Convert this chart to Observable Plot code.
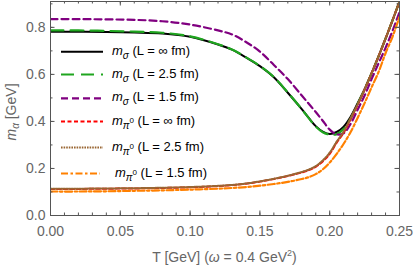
<!DOCTYPE html>
<html>
<head>
<meta charset="utf-8">
<script src="https://cdn.jsdelivr.net/npm/d3@7"></script>
<script src="https://cdn.jsdelivr.net/npm/@observablehq/plot@0.6"></script>
<style>
  html, body { margin: 0; padding: 0; background: #fff; }
  #chart svg { display: block; font-family: "Liberation Sans", Arial, sans-serif; }
</style>
</head>
<body>
<div id="chart"></div>
<script>
// Temperature grid (GeV)
const T = [0, 0.02, 0.04, 0.06, 0.08, 0.10, 0.12, 0.13, 0.14, 0.15, 0.16, 0.17, 0.18, 0.185, 0.19, 0.195, 0.20, 0.205, 0.21, 0.215, 0.22, 0.225, 0.23, 0.235, 0.24, 0.245, 0.25];

// m_sigma, L = infinity
const sigmaInf = [0.781, 0.781, 0.780, 0.778, 0.774, 0.760, 0.727, 0.705, 0.672, 0.635, 0.588, 0.522, 0.452, 0.415, 0.380, 0.357, 0.347, 0.355, 0.378, 0.420, 0.477, 0.537, 0.605, 0.677, 0.752, 0.830, 0.910];
// m_sigma, L = 2.5 fm
const sigma25 = [0.787, 0.787, 0.785, 0.782, 0.777, 0.762, 0.728, 0.706, 0.673, 0.636, 0.589, 0.523, 0.452, 0.414, 0.378, 0.354, 0.344, 0.346, 0.368, 0.412, 0.474, 0.537, 0.605, 0.677, 0.752, 0.830, 0.910];
// m_sigma, L = 1.5 fm
const sigma15 = [0.835, 0.835, 0.834, 0.832, 0.826, 0.812, 0.787, 0.770, 0.738, 0.697, 0.640, 0.580, 0.510, 0.475, 0.440, 0.403, 0.365, 0.345, 0.350, 0.390, 0.450, 0.510, 0.580, 0.647, 0.713, 0.785, 0.865];
// m_pi0, L = infinity
const pionInf = [0.113, 0.113, 0.114, 0.115, 0.117, 0.120, 0.125, 0.129, 0.135, 0.144, 0.155, 0.168, 0.183, 0.193, 0.207, 0.230, 0.262, 0.310, 0.352, 0.410, 0.470, 0.535, 0.605, 0.677, 0.752, 0.830, 0.910];
// m_pi0, L = 2.5 fm
const pion25 = [0.114, 0.114, 0.115, 0.116, 0.118, 0.121, 0.126, 0.130, 0.136, 0.145, 0.156, 0.169, 0.185, 0.195, 0.210, 0.234, 0.267, 0.314, 0.357, 0.414, 0.473, 0.537, 0.605, 0.677, 0.752, 0.830, 0.910];
// m_pi0, L = 1.5 fm
const pion15 = [0.102, 0.102, 0.103, 0.105, 0.107, 0.110, 0.114, 0.117, 0.121, 0.127, 0.134, 0.143, 0.155, 0.163, 0.176, 0.196, 0.225, 0.262, 0.305, 0.355, 0.415, 0.478, 0.545, 0.610, 0.690, 0.760, 0.845];

const xMajor = [0, 0.05, 0.10, 0.15, 0.20, 0.25];
const xMinor = d3.range(0, 0.2501, 0.01);
const yMajor = [0, 0.2, 0.4, 0.6, 0.8];
const yMinor = d3.range(0, 0.91, 0.1);

const series = [
  {values: sigmaInf, color: "#000000", dash: null,        width: 2,   sym: "σ", L: "∞"},
  {values: sigma25,  color: "#1fa51f", dash: "13,7",      width: 2.2, sym: "σ", L: "2.5"},
  {values: sigma15,  color: "#800080", dash: "7,4",       width: 2.2, sym: "σ", L: "1.5"},
  {values: pionInf,  color: "#ff0000", dash: "4,2.5",     width: 2,   sym: "π", L: "∞"},
  {values: pion25,   color: "#996633", dash: "1.6,1",     width: 2,   sym: "π", L: "2.5"},
  {values: pion15,   color: "#ff8000", dash: "7,2.5,2.5,2.5", width: 2.2, sym: "π", L: "1.5"}
];

const W = 415, H = 267, mT = 1, mB = 52, mL = 50, mR = 16;
const innerH = H - mT - mB;
const innerW = W - mL - mR;
const frameColor = "#555";
const labelColor = "#666";

const lineMarks = series.map(s =>
  Plot.line(T.map((t, i) => ({t, m: s.values[i]})), {
    x: "t", y: "m", stroke: s.color, strokeWidth: s.width,
    strokeDasharray: s.dash, curve: "catmull-rom", clip: true
  })
);

const chart = Plot.plot({
  width: W, height: H,
  marginTop: mT, marginBottom: mB, marginLeft: mL, marginRight: mR,
  x: {domain: [0, 0.25]},
  y: {domain: [0, 0.91]},
  style: {fontFamily: "'Liberation Sans', Arial, sans-serif"},
  marks: [
    ...lineMarks,
    Plot.frame({stroke: frameColor, strokeWidth: 1}),
    // inward ticks, bottom and top
    Plot.ruleX(xMinor, {x: d => d, insetTop: innerH - 2.5, stroke: frameColor}),
    Plot.ruleX(xMajor, {x: d => d, insetTop: innerH - 4.5, stroke: frameColor}),
    Plot.ruleX(xMinor, {x: d => d, insetBottom: innerH - 2.5, stroke: frameColor}),
    Plot.ruleX(xMajor, {x: d => d, insetBottom: innerH - 4.5, stroke: frameColor}),
    // inward ticks, left and right
    Plot.ruleY(yMinor, {y: d => d, insetRight: innerW - 2.5, stroke: frameColor}),
    Plot.ruleY(yMajor, {y: d => d, insetRight: innerW - 4.5, stroke: frameColor}),
    Plot.ruleY(yMinor, {y: d => d, insetLeft: innerW - 2.5, stroke: frameColor}),
    Plot.ruleY(yMajor, {y: d => d, insetLeft: innerW - 4.5, stroke: frameColor}),
    Plot.axisX(xMajor, {tickSize: 0, tickPadding: 11, tickFormat: d => d.toFixed(2), fontSize: 14, fill: labelColor, label: null}),
    Plot.axisY(yMajor, {tickSize: 0, tickPadding: 5, tickFormat: d => d.toFixed(1), fontSize: 14, fill: labelColor, label: null})
  ]
});

const svg = d3.select(chart);
const font = "'Liberation Sans', Arial, sans-serif";

// x-axis title
const xt = svg.append("text")
  .attr("x", mL + innerW / 2).attr("y", 262)
  .attr("text-anchor", "middle").attr("fill", labelColor)
  .attr("font-size", 14).attr("font-family", font);
xt.append("tspan").text("T [GeV] (");
xt.append("tspan").attr("font-style", "italic").text("ω");
xt.append("tspan").text(" = 0.4 GeV");
xt.append("tspan").attr("font-size", 9).attr("dy", -6).text("2");
xt.append("tspan").attr("dy", 6).text(")");

// y-axis title
const yt = svg.append("text")
  .attr("transform", `translate(16,${mT + innerH / 2 + 4}) rotate(-90)`)
  .attr("text-anchor", "middle").attr("fill", labelColor)
  .attr("font-size", 14).attr("font-family", font);
yt.append("tspan").attr("font-style", "italic").text("m");
yt.append("tspan").attr("font-style", "italic").attr("font-size", 10).attr("dy", 3).text("α");
yt.append("tspan").attr("dy", -3).text(" [GeV]");

// legend
const rowsY = [51.7, 74.5, 98.3, 121.5, 147.5, 173.5];
const leg = svg.append("g").attr("font-family", font).attr("font-size", 13)
  .attr("fill", "#000").attr("text-anchor", "start");
series.forEach((s, i) => {
  const y = rowsY[i];
  leg.append("line")
    .attr("x1", 61).attr("x2", i === 5 ? 100 : 103).attr("y1", y).attr("y2", y)
    .attr("stroke", s.color).attr("stroke-width", s.width)
    .attr("stroke-dasharray", s.dash);
  const tx = leg.append("text").attr("text-anchor", "start")
    .attr("x", i === 5 ? 115 : 112).attr("y", y + 3);
  tx.append("tspan").attr("font-style", "italic").text("m");
  tx.append("tspan").attr("font-style", "italic").attr("font-size", 10).attr("dy", 4).text(s.sym);
  if (s.sym === "π") {
    tx.append("tspan").attr("font-size", 8).attr("dy", -6).text("0");
    tx.append("tspan").attr("dy", 2).text(` (L = ${s.L} fm)`);
  } else {
    tx.append("tspan").attr("dy", -4).text(` (L = ${s.L} fm)`);
  }
});

document.getElementById("chart").appendChild(chart);
</script>
</body>
</html>
